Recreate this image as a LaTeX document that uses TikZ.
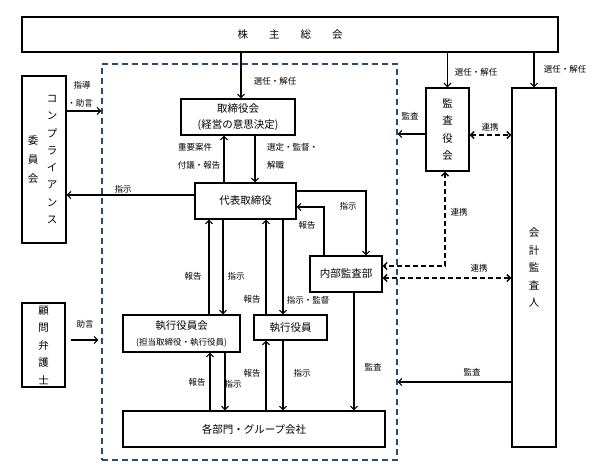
\documentclass[tikz,border=0pt]{standalone}
\usepackage{fontspec}
\setmainfont{Noto Sans CJK JP}
\usetikzlibrary{arrows.meta}
\definecolor{frameblue}{HTML}{1F4E79}

\begin{document}
\begin{tikzpicture}[
    x=1pt, y=-1pt,
    box/.style={
        draw,
        line width=1.3pt,
        inner sep=0pt,
        align=center,
        font=\fontsize{10.5}{16}\selectfont
    },
    tate/.style={
        align=center,
        inner sep=0pt,
        font=\fontsize{10.5}{17.5}\selectfont
    },
    lbl/.style={
        inner sep=0pt,
        font=\fontsize{8.5}{10}\selectfont
    },
    conn/.style={
        line width=1.1pt,
        -{Straight Barb[length=3.5pt,width=7pt]}
    },
    coop/.style={
        line width=1.4pt,
        dash pattern=on 5pt off 3pt,
        {Straight Barb[length=3.5pt,width=7pt]}-{Straight Barb[length=3.5pt,width=7pt]}
    }
]
\useasboundingbox (0,0) rectangle (600,471);

% Boxes, positions in pixels of the original chart.
\node[box, minimum width=536pt, minimum height=35pt] (share) at (290,34.5)
    {株\hspace{21pt}主\hspace{21pt}総\hspace{21pt}会};
\node[draw=frameblue, line width=1.2pt, dash pattern=on 6pt off 4pt,
      inner sep=0pt, minimum width=295pt, minimum height=396pt] (frame) at (249.5,262) {};

\node[box, minimum width=44pt, minimum height=167pt] (compl) at (44,159.5) {};
\node[tate, font=\fontsize{10.5}{17.3}\selectfont] (compl-a) at ([xshift=8pt]compl.center)
    {コ\\ン\\プ\\ラ\\イ\\ア\\ン\\ス};
\node[tate, font=\fontsize{10.5}{19}\selectfont] (compl-b) at ([xshift=-11pt]compl.center)
    {委\\員\\会};
\node[box, tate, minimum width=43pt, minimum height=84pt] (advisor) at (43.5,345)
    {顧\\問\\弁\\護\\士};

\node[box, minimum width=114pt, minimum height=36pt] (board) at (238,117)
    {取締役会\\(経営の意思決定)};
\node[box, minimum width=101pt, minimum height=36pt] (ceo) at (245.5,201) {代表取締役};
\node[box, minimum width=72pt, minimum height=36pt] (internal) at (346,274) {内部監査部};
\node[box, tate, minimum width=43pt, minimum height=83pt] (kansa) at (447.5,129.5)
    {監\\査\\役\\会};
\node[box, tate, minimum width=44pt, minimum height=359pt] (auditor) at (534,267.5)
    {会\\計\\監\\査\\人};
\node[box, minimum width=117pt, minimum height=37pt] (execboard) at (181.5,333.5)
    {執行役員会\\{\fontsize{8.5}{10}\selectfont (担当取締役・執行役員)}};
\node[box, minimum width=73pt, minimum height=25pt] (exec) at (290.5,327.5) {執行役員};
\node[box, minimum width=262pt, minimum height=36pt] (dept) at (254,429)
    {各部門・グループ会社};

% Connectors from the general meeting and the outside boxes.
\draw[conn] ([xshift=3pt]board.north |- share.south) -- ([xshift=3pt]board.north);
\draw[conn] (share.south -| kansa.north) -- (kansa.north);
\draw[conn] (share.south -| auditor.north) -- (auditor.north);
\draw[conn] ([yshift=48.5pt]compl.east) -- ([yshift=48.5pt]compl.east -| frame.west);
\draw[conn] ([yshift=6pt]ceo.west) -- ([yshift=6pt]ceo.west -| compl.east);
\draw[conn, shorten <=5pt, shorten >=3pt]
    ([yshift=5pt]advisor.east) -- ([yshift=5pt]advisor.east -| frame.west);

\draw[conn] ([xshift=-21.5pt]ceo.north) -- ([xshift=-21.5pt]ceo.north |- board.south);
\draw[conn] ([xshift=9.5pt]ceo.north |- board.south) -- ([xshift=9.5pt]ceo.north);

\draw[conn] ([yshift=-4.5pt]kansa.west) -- ([yshift=-4.5pt]kansa.west -| frame.east);
\draw[coop] ([yshift=-5.5pt]kansa.east) -- ([yshift=-5.5pt]kansa.east -| auditor.west);
\draw[coop] ([xshift=-2.5pt]kansa.south) |- ([yshift=8pt]internal.east);
\draw[coop] ([yshift=-4pt]internal.east) -- ([yshift=-4pt]internal.east -| auditor.west);
\draw[conn] ([yshift=-114.5pt]auditor.west) -- ([yshift=-114.5pt]auditor.west -| frame.east);

\draw[conn] ([yshift=10pt]ceo.east) -| ([xshift=20pt]internal.north);
\draw[conn] ([xshift=-22pt]internal.north) |- ([yshift=-6pt]ceo.east);
\draw[conn] ([xshift=8pt]internal.south) -- ([xshift=8pt]internal.south |- dept.north);

% Report goes up, instruction goes down.
\foreach \up/\down/\tgt in {-36.5pt/-22.5pt/execboard, 20.5pt/37.5pt/exec}{
    \draw[conn] ([xshift=\up]ceo.south |- \tgt.north) -- ([xshift=\up]ceo.south);
    \draw[conn] ([xshift=\down]ceo.south) -- ([xshift=\down]ceo.south |- \tgt.north);
}
\foreach \up/\down/\src in {-44pt/-29pt/execboard, 12pt/29pt/exec}{
    \draw[conn] ([xshift=\up]dept.north) -- ([xshift=\up]dept.north |- \src.south);
    \draw[conn] ([xshift=\down]dept.north |- \src.south) -- ([xshift=\down]dept.north);
}

% Labels on the connectors.
\foreach \txt/\px/\py [count=\i] in {
    選任・解任/275/81, 選任・解任/476/72, 選任・解任/565/69,
    指導/82/85, ・助言/80/103, 監査/410/116, 連携/490/127,
    重要案件/195/147, 付議・報告/199/165,
    指示/123/189, 指示/348/206, 連携/459/212, 報告/307/225,
    連携/479/268, 報告/193/276, 指示/236/276, 報告/252/299,
    指示・監督/308/300, 助言/85/324, 監査/373/367, 監査/472/372,
    報告/197/382, 指示/233/384, 報告/252/373, 指示/302/373
}{
    \node[lbl] (lbl\i) at (\px,\py) {\txt};
}
\node[lbl, anchor=west] (lbl-sentei) at (267,147) {選定・監督・};
\node[lbl, anchor=west] (lbl-kaishoku) at (267,165) {解職};
\end{tikzpicture}
\end{document}
